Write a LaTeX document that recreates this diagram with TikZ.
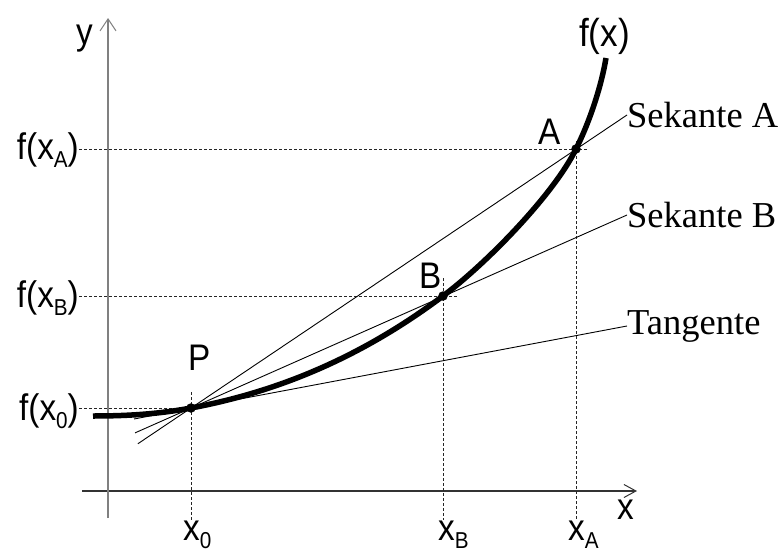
\documentclass[tikz,border=0pt]{standalone}
\usepackage{fontspec}
\setmainfont{Liberation Serif}
\newfontfamily\lsans[FakeStretch=0.9]{Liberation Sans}
\usetikzlibrary{arrows.meta,calc}
\newcommand\lsub[1]{\raisebox{-8pt}{\fontsize{23}{23}\selectfont #1}}
\begin{document}
\begin{tikzpicture}[x=1pt,y=-1pt,
  sanslab/.style={font=\lsans\fontsize{37}{37}\selectfont, inner sep=0pt},
  seriflab/.style={font=\fontsize{36.5}{36.5}\selectfont, inner sep=0pt},
  guide/.style={dash pattern=on 3pt off 2pt, line width=0.9pt, black!85},
  secline/.style={line width=0.9pt},
  curveline/.style={line width=5.5pt},
  dot/.style={circle, fill, inner sep=0pt, minimum size=9.5pt},
  xaxis/.style={line width=1.1pt, black!80, -{Straight Barb[length=12pt,width=13pt,line width=1pt]}},
  yaxis/.style={line width=2pt, black!50, -{Straight Barb[length=12pt,width=16pt,line width=1pt]}}]
\useasboundingbox (0,0) rectangle (780,554);
% key points
\coordinate (P) at (191,408);
\coordinate (B) at (443,296);
\coordinate (A) at (576,149);
\coordinate (c0) at (93,416);
\coordinate (c1) at (606,58);
\coordinate (tS) at (134,419);
\coordinate (vb) at (0,520);
% axes
\coordinate (xs) at (82,491);
\coordinate (xe) at (637,491);
\coordinate (ys) at (108,518);
\coordinate (ye) at (108,18);
\draw[xaxis] (xs) -- (xe);
\draw[yaxis] (ys) -- (ye);
% labels
\node[sanslab, anchor=base west] (xl) at (617,519) {x};
\node[sanslab, anchor=base west] (yl) at (76,45) {y};
\node[sanslab, anchor=base west, font=\lsans\fontsize{39}{39}\selectfont] (fl) at (579,46) {f(x)};
\node[sanslab, anchor=base west] (Al) at (538,144) {A};
\node[sanslab, anchor=base west] (Bl) at (419,288) {B};
\node[sanslab, anchor=base west] (Pl) at (188,370) {P};
\node[sanslab, anchor=base west] (x0l) at (183,540) {x\lsub{0}};
\node[sanslab, anchor=base west] (xBl) at (438,540) {x\lsub{B}};
\node[sanslab, anchor=base west] (xAl) at (568,540) {x\lsub{A}};
\node[sanslab, anchor=base east] (fA) at (79,159) {f(x\lsub{A})};
\node[sanslab, anchor=base east] (fB) at (79,307) {f(x\lsub{B})};
\node[sanslab, anchor=base east] (f0) at (79,420) {f(x\lsub{0})};
\node[seriflab, anchor=west] (secA) at (627,115) {Sekante A};
\node[seriflab, anchor=west] (secB) at (627,215) {Sekante B};
\node[seriflab, anchor=west] (tang) at (627,326) {Tangente};
% guide lines
\draw[guide] (fA.east |- A) -- ($(A)+(12,0)$);
\draw[guide] (fB.east |- B) -- ($(B)+(15,0)$);
\draw[guide] (f0.east |- P) -- (P);
\draw[guide] ($(P)+(0,-16)$) -- (P |- vb);
\draw[guide] ($(B)+(0,-18)$) -- (B |- vb);
\draw[guide] ($(A)+(0,-8)$) -- (A |- vb);
% secants and tangent
\draw[secline] ($(P)!-0.138!(A)$) -- (secA.west);
\draw[secline] ($(P)!-0.222!(B)$) -- (secB.west);
\draw[secline] (tS) -- (tang.west);
% curve
\draw[curveline] (c0) .. controls (126,416) and (158,414.2) .. (P)
  .. controls (275,392.3) and (359,359) .. (B)
  .. controls (487,263) and (554,194) .. (A)
  .. controls (589,123) and (601,88) .. (c1);
% points
\node[dot] (Pd) at (P) {};
\node[dot] (Bd) at (B) {};
\node[dot] (Ad) at (A) {};
\end{tikzpicture}
\end{document}
